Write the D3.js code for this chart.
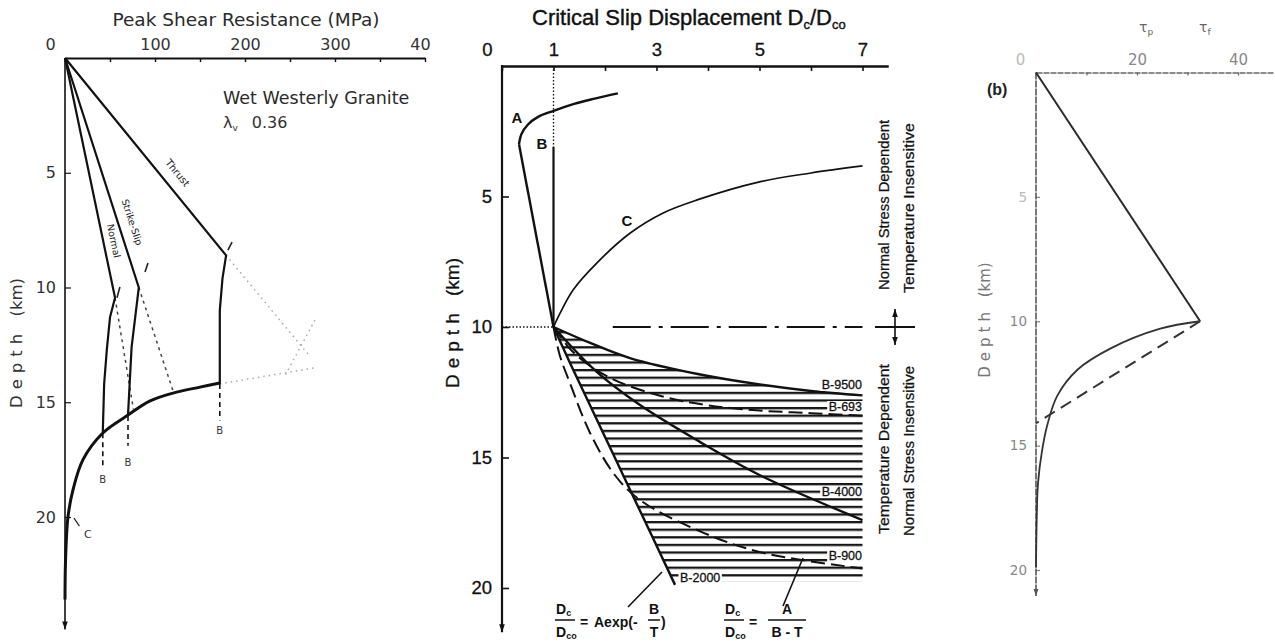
<!DOCTYPE html>
<html>
<head>
<meta charset="utf-8">
<script src="https://cdn.jsdelivr.net/npm/d3@7"></script>
<style>
  body { margin: 0; background: #fff; }
  svg { display: block; }
</style>
</head>
<body>
<svg id="fig" width="1275" height="642"></svg>
<script>
// ---------- Panel 1: peak shear resistance, wet Westerly granite ----------
const shearTicks = [0, 50, 100, 150, 200, 250, 300, 350, 400];
const shearTickLabels = [0, 100, 200, 300, 400];
const depthTicks = [5, 10, 15, 20];
// points are [shear resistance (MPa), depth (km)]
const thrustLine = [[0, 0], [179, 8.6], [175, 9.6], [172, 11], [172, 14.2]];
const strikeSlipLine = [[0, 0], [82, 10], [78, 11.3], [74, 12.6], [70, 15.56]];
const normalLine = [[0, 0], [55.6, 10.45], [50, 11.3], [46.5, 12.7], [43.5, 14.2], [42, 16.3]];
const envelopeC = [[172, 14.16], [150, 14.34], [120, 14.6], [94, 14.95], [70, 15.56], [42, 16.34],
                   [20, 17.5], [9, 18.8], [3.3, 20], [0.6, 21.9], [0, 23.6]];
const brittleB = [[[172, 14.2], [172, 15.8]], [[70, 15.6], [70, 16.9]], [[42, 16.35], [42, 17.9]]];
const brittleLabelDepth = [16.2, 17.6, 18.35];
const frictionExt = [[[55.6, 10.45], [76, 15.3]], [[82, 10], [120, 14.5]]];
const faintExt = [[[179, 8.6], [270, 12.9]], [[172, 14.2], [278, 13.5]], [[245, 13.8], [278, 11.4]]];
const kinkMarks = [[[57.8, 10.45], [61, 9.98]], [[88.9, 9.32], [92.2, 8.93]], [[181, 8.37], [185.6, 8.02]]];

// ---------- Panel 2: critical slip displacement Dc/Dco ----------
const dcTicks = [0, 1, 2, 3, 4, 5, 6, 7];
const dcTickLabels = [0, 1, 3, 5, 7];
// points are [Dc/Dco, depth (km)]
const curveAHook = [[2.25, 1.05], [1.8, 1.25], [1.4, 1.45], [1.0, 1.72], [0.7, 1.95], [0.5, 2.25],
                    [0.38, 2.6], [0.33, 3.0]];
const curveAStem = [[0.33, 3.0], [1.0, 10]];
const curveB = [[1, 3.1], [1, 10]];
const curveBDotted = [[1, 0], [1, 3.1]];
const curveC = [[1, 10], [1.12, 9.5], [1.38, 8.58], [1.84, 7.55], [2.49, 6.4], [3.13, 5.63],
                [3.79, 5.13], [5.0, 4.44], [6.0, 4.1], [7.0, 3.83]];
const b9500 = [[1, 10], [1.7, 10.6], [2.5, 11.2], [3.8, 11.8], [5, 12.2], [6, 12.45], [7, 12.62]];
const b693 = [[1, 10], [1.4, 11.0], [2.1, 11.95], [3.1, 12.65], [4.0, 13.0], [5.0, 13.2], [6.0, 13.3], [7.0, 13.4]];
const b4000 = [[1, 10], [1.84, 11.72], [2.68, 12.99], [3.84, 14.4], [5.0, 15.67], [7, 17.4]];
const b2000 = [[1, 10], [1.35, 11.5], [1.95, 14], [2.55, 16.5], [3.36, 19.88]];
const b900 = [[1, 10], [1.12, 11.07], [1.32, 12.15], [1.71, 14.06], [2.19, 15.67], [2.68, 16.63],
              [3.79, 17.78], [5.0, 18.62], [7.0, 19.25]];
const transitionDepth = 10;
const hatchBottom = 19.75;

// ---------- Panel 3 (b): shear stress profile ----------
const tauTicks = [0, 10, 20, 30, 40];
const tauTickLabels = [0, 20, 40];
// points are [stress (MPa), depth (km)]
const tauPeak = [[0, 0], [32.5, 10]];
const tauDecay = [[32.5, 10], [24.6, 10.3], [14.7, 11.1], [8.2, 11.95], [4.2, 13.0], [2.2, 14.2],
                  [1.2, 15.2], [0.4, 16.5], [0.15, 17.9], [0, 19.9]];
const tauDashed = [[32.5, 10], [0, 14.1]];

const svg = d3.select("#fig");
const defs = svg.append("defs");

function addArrow(id, color, size) {
  defs.append("marker")
    .attr("id", id).attr("viewBox", "0 0 10 10")
    .attr("refX", 10).attr("refY", 5)
    .attr("markerUnits", "userSpaceOnUse")
    .attr("markerWidth", size).attr("markerHeight", size)
    .attr("orient", "auto-start-reverse")
    .append("path").attr("d", "M0,1.5 L10,5 L0,8.5 z").attr("fill", color);
}
addArrow("arrowDark", "#111", 8);
addArrow("arrowGrey", "#555", 7);

function drawLine(g, data, x, y, opts) {
  const gen = d3.line().x(d => x(d[0])).y(d => y(d[1])).curve(opts.curve || d3.curveLinear);
  return g.append("path")
    .attr("d", gen(data))
    .attr("fill", "none")
    .attr("stroke", opts.color || "#111")
    .attr("stroke-width", opts.width || 2)
    .attr("stroke-dasharray", opts.dash || null)
    .attr("stroke-linejoin", "round")
    .attr("stroke-linecap", opts.cap || "butt");
}

// =================== Panel 1 ===================
const leftFont = "'DejaVu Sans', sans-serif";
const xA = d3.scaleLinear().domain([0, 400]).range([65, 425]);
const yA = d3.scaleLinear().domain([0, 20]).range([58, 517]);

defs.append("clipPath").attr("id", "clipLeft")
  .append("rect").attr("x", 0).attr("y", 0).attr("width", 431).attr("height", 642);

const gA = svg.append("g").attr("clip-path", "url(#clipLeft)");

gA.append("text").attr("x", 246).attr("y", 26).attr("text-anchor", "middle")
  .attr("font-family", leftFont).attr("font-size", 18.5).attr("fill", "#2a2a2a")
  .text("Peak Shear Resistance (MPa)");

const axATop = gA.append("g").attr("transform", `translate(0,${yA(0)})`)
  .call(d3.axisTop(xA).tickValues(shearTicks).tickSizeInner(-4).tickSizeOuter(0).tickPadding(8)
    .tickFormat(v => shearTickLabels.includes(v) ? v : ""));
axATop.select(".domain").attr("stroke", "#111").attr("stroke-width", 2.2);
axATop.selectAll(".tick line").attr("stroke", "#111").attr("stroke-width", 1.4);
axATop.selectAll(".tick text").attr("font-family", leftFont).attr("font-size", 16).attr("fill", "#333");
axATop.selectAll(".tick").filter(d => d === 0).select("text").attr("dx", -15);

const axALeft = gA.append("g").attr("transform", `translate(${xA(0)},0)`)
  .call(d3.axisLeft(yA).tickValues(depthTicks).tickSizeInner(-6).tickSizeOuter(0).tickPadding(9));
axALeft.select(".domain").remove();
axALeft.selectAll(".tick line").attr("stroke", "#111").attr("stroke-width", 1.2);
axALeft.selectAll(".tick text").attr("font-family", leftFont).attr("font-size", 16).attr("fill", "#333");
gA.append("line").attr("x1", xA(0)).attr("x2", xA(0)).attr("y1", yA(0)).attr("y2", yA(24.9))
  .attr("stroke", "#111").attr("stroke-width", 1.6).attr("marker-end", "url(#arrowDark)");

const depthLabelA = gA.append("text").attr("transform", `translate(22,343) rotate(-90)`)
  .attr("text-anchor", "middle").attr("font-family", leftFont).attr("font-size", 16.5).attr("fill", "#333");
depthLabelA.append("tspan").attr("letter-spacing", 6).text("Depth ");
depthLabelA.append("tspan").text("(km)");

faintExt.forEach(seg => drawLine(gA, seg, xA, yA, { color: "#aaa", width: 1.5, dash: "1.5,4" }));
frictionExt.forEach(seg => drawLine(gA, seg, xA, yA, { color: "#444", width: 1.5, dash: "3,4" }));
kinkMarks.forEach(seg => drawLine(gA, seg, xA, yA, { color: "#222", width: 1.6 }));

drawLine(gA, thrustLine, xA, yA, { width: 2.2 });
drawLine(gA, strikeSlipLine, xA, yA, { width: 2.2 });
drawLine(gA, normalLine, xA, yA, { width: 2.2 });
drawLine(gA, envelopeC, xA, yA, { width: 3, curve: d3.curveCatmullRom.alpha(0.5) });
brittleB.forEach((seg, i) => {
  drawLine(gA, seg, xA, yA, { width: 1.6, dash: "5,4" });
  gA.append("text").attr("x", xA(seg[0][0])).attr("y", yA(brittleLabelDepth[i]) + 4)
    .attr("text-anchor", "middle").attr("font-family", leftFont).attr("font-size", 10).attr("fill", "#333")
    .text("B");
});
// label C with its short leader
gA.append("line").attr("x1", xA(10)).attr("y1", yA(20.05)).attr("x2", xA(16)).attr("y2", yA(20.4))
  .attr("stroke", "#222").attr("stroke-width", 1.2);
gA.append("text").attr("x", xA(21)).attr("y", yA(20.9)).attr("font-family", leftFont)
  .attr("font-size", 11).attr("fill", "#333").text("C");

function alongLabel(g, text, px, py, angle, size) {
  g.append("text").attr("transform", `translate(${px},${py}) rotate(${angle})`)
    .attr("text-anchor", "middle").attr("font-family", leftFont).attr("font-size", size)
    .attr("fill", "#222").text(text);
}
alongLabel(gA, "Thrust", xA(122), yA(5.1), 50.7, 10);
alongLabel(gA, "Strike-Slip", xA(71), yA(7.2), 72, 9.5);
alongLabel(gA, "Normal", xA(50.5), yA(8.0), 78, 9.5);

gA.append("text").attr("x", 223).attr("y", 104).attr("font-family", leftFont).attr("font-size", 17.5)
  .attr("fill", "#2a2a2a").text("Wet Westerly Granite");
const lam = gA.append("text").attr("x", 223).attr("y", 128).attr("font-family", leftFont)
  .attr("font-size", 16).attr("fill", "#333");
lam.append("tspan").text("λ");
lam.append("tspan").attr("font-size", 9).attr("dy", 3).text("v");
lam.append("tspan").attr("dy", -3).attr("dx", 14).text("0.36");

// =================== Panel 2 ===================
const midFont = "'Liberation Sans', Arial, sans-serif";
const xB = d3.scaleLinear().domain([0, 7]).range([502, 862.5]);
const yB = d3.scaleLinear().domain([0, 20]).range([66, 588]);
const gB = svg.append("g");

const title = gB.append("text").attr("x", 532).attr("y", 25).attr("font-family", midFont)
  .attr("font-size", 22).attr("fill", "#111").attr("stroke", "#111").attr("stroke-width", 0.4);
title.append("tspan").text("Critical Slip Displacement  D");
title.append("tspan").attr("font-size", 13).attr("dy", 4).text("c");
title.append("tspan").attr("dy", -4).text("/D");
title.append("tspan").attr("font-size", 13).attr("dy", 4).text("co");

const axBTop = gB.append("g").attr("transform", `translate(0,${yB(0)})`)
  .call(d3.axisTop(xB.copy().domain([0, 7.5]).range([502, xB(7.5)]))
    .tickValues(dcTicks).tickSizeInner(-5).tickSizeOuter(0).tickPadding(10)
    .tickFormat(v => dcTickLabels.includes(v) ? v : ""));
axBTop.select(".domain").attr("stroke", "#111").attr("stroke-width", 2.4);
axBTop.selectAll(".tick line").attr("stroke", "#111").attr("stroke-width", 1.6);
axBTop.selectAll(".tick text").attr("font-family", midFont).attr("font-size", 18.5).attr("fill", "#111")
  .attr("stroke", "#111").attr("stroke-width", 0.3);
axBTop.selectAll(".tick").filter(d => d === 0).select("text").attr("dx", -15);

const axBLeft = gB.append("g").attr("transform", `translate(${xB(0)},0)`)
  .call(d3.axisLeft(yB).tickValues(depthTicks).tickSizeInner(-7).tickSizeOuter(0).tickPadding(10));
axBLeft.select(".domain").remove();
axBLeft.selectAll(".tick line").attr("stroke", "#111").attr("stroke-width", 1.6);
axBLeft.selectAll(".tick text").attr("font-family", midFont).attr("font-size", 18.5).attr("fill", "#111")
  .attr("stroke", "#111").attr("stroke-width", 0.3);
gB.append("line").attr("x1", xB(0)).attr("x2", xB(0)).attr("y1", yB(0) - 1).attr("y2", yB(21.7))
  .attr("stroke", "#111").attr("stroke-width", 2.2).attr("marker-end", "url(#arrowDark)");

const depthLabelB = gB.append("text").attr("transform", `translate(459,323) rotate(-90)`)
  .attr("text-anchor", "middle").attr("font-family", midFont).attr("font-size", 19).attr("fill", "#111")
  .attr("stroke", "#111").attr("stroke-width", 0.3);
depthLabelB.append("tspan").attr("letter-spacing", 6).text("Depth ");
depthLabelB.append("tspan").text("(km)");

// hatched region between B-2000 and B-9500
defs.append("pattern").attr("id", "hatch").attr("patternUnits", "userSpaceOnUse")
  .attr("x", 0).attr("y", yB(10) + 4).attr("width", 10).attr("height", 7.6)
  .append("rect").attr("x", 0).attr("y", 0).attr("width", 10).attr("height", 2.3).attr("fill", "#151515");
const smooth = d3.line().x(d => xB(d[0])).y(d => yB(d[1])).curve(d3.curveCatmullRom.alpha(0.5));
const hatchPath = smooth(b2000) +
  `L${xB(b2000[b2000.length - 1][0])},${yB(hatchBottom)}` +
  `L${xB(7)},${yB(hatchBottom)}` +
  `L${xB(7)},${yB(b9500[b9500.length - 1][1])}` +
  smooth(b9500.slice().reverse()).replace(/^M/, "L") + "Z";
gB.append("path").attr("d", hatchPath).attr("fill", "url(#hatch)");

// reference lines
drawLine(gB, [[0, transitionDepth], [1, transitionDepth]], xB, yB, { width: 1.3, dash: "1.5,2" });
drawLine(gB, curveBDotted, xB, yB, { width: 1.3, dash: "1.5,2" });
drawLine(gB, [[2.15, transitionDepth], [7, transitionDepth]], xB, yB, { width: 1.8, dash: "38,8,4,8" });

// model curves
drawLine(gB, curveAHook, xB, yB, { width: 2.4, curve: d3.curveCatmullRom.alpha(0.5) });
drawLine(gB, curveAStem, xB, yB, { width: 2.4 });
drawLine(gB, curveB, xB, yB, { width: 2.2 });
drawLine(gB, curveC, xB, yB, { width: 1.7, curve: d3.curveCatmullRom.alpha(0.5) });
drawLine(gB, b9500, xB, yB, { width: 2.4, curve: d3.curveCatmullRom.alpha(0.5) });
drawLine(gB, b4000, xB, yB, { width: 2.4, curve: d3.curveCatmullRom.alpha(0.5) });
drawLine(gB, b2000, xB, yB, { width: 2.4, curve: d3.curveCatmullRom.alpha(0.5) });
drawLine(gB, b693, xB, yB, { width: 2.0, dash: "14,6", curve: d3.curveCatmullRom.alpha(0.5) });
drawLine(gB, b900, xB, yB, { width: 2.0, dash: "14,6", curve: d3.curveCatmullRom.alpha(0.5) });

function boxedLabel(g, text, x, y, anchor) {
  const t = g.append("text").attr("x", x).attr("y", y).attr("text-anchor", anchor)
    .attr("font-family", midFont).attr("font-size", 12.5).attr("fill", "#111")
    .attr("stroke", "#111").attr("stroke-width", 0.3).text(text);
  const bb = t.node().getBBox();
  g.insert("rect", () => t.node()).attr("x", bb.x - 1.5).attr("y", bb.y + 1)
    .attr("width", bb.width + 3).attr("height", bb.height - 2).attr("fill", "#fff");
}
boxedLabel(gB, "B-9500", 862, 389, "end");
boxedLabel(gB, "B-693", 862, 411, "end");
boxedLabel(gB, "B-4000", 862, 496, "end");
boxedLabel(gB, "B-900", 862, 560, "end");
boxedLabel(gB, "B-2000", 680, 582, "start");

function curveLetter(text, x, y) {
  gB.append("text").attr("x", x).attr("y", y).attr("text-anchor", "middle").attr("font-family", midFont)
    .attr("font-size", 15).attr("font-weight", "bold").attr("fill", "#111").text(text);
}
curveLetter("A", 517, 123);
curveLetter("B", 542, 149);
curveLetter("C", 627, 226);

// regime annotations
function vText(text, x, yc) {
  gB.append("text").attr("transform", `translate(${x},${yc}) rotate(-90)`).attr("text-anchor", "middle")
    .attr("font-family", midFont).attr("font-size", 14).attr("fill", "#111")
    .attr("stroke", "#111").attr("stroke-width", 0.25)
    .attr("textLength", 170).attr("lengthAdjust", "spacingAndGlyphs").text(text);
}
vText("Normal Stress Dependent", 889, 205);
vText("Temperature Insensitive", 914, 208);
vText("Temperature Dependent", 889, 449);
vText("Normal Stress Insensitive", 914, 451);
gB.append("line").attr("x1", 875).attr("x2", 915).attr("y1", yB(transitionDepth)).attr("y2", yB(transitionDepth))
  .attr("stroke", "#111").attr("stroke-width", 1.8);
gB.append("line").attr("x1", 895).attr("x2", 895).attr("y1", 309).attr("y2", 345)
  .attr("stroke", "#111").attr("stroke-width", 1.6)
  .attr("marker-start", "url(#arrowDark)").attr("marker-end", "url(#arrowDark)");

// constitutive relations
function dcRatio(x, yNum) {
  const a = gB.append("text").attr("x", x).attr("y", yNum).attr("font-family", midFont)
    .attr("font-size", 14).attr("font-weight", "bold").attr("fill", "#111");
  a.append("tspan").text("D");
  a.append("tspan").attr("font-size", 9).attr("dy", 2).text("c");
  gB.append("line").attr("x1", x - 1).attr("x2", x + 19).attr("y1", yNum + 6).attr("y2", yNum + 6)
    .attr("stroke", "#111").attr("stroke-width", 1.5);
  const b = gB.append("text").attr("x", x).attr("y", yNum + 23).attr("font-family", midFont)
    .attr("font-size", 14).attr("font-weight", "bold").attr("fill", "#111");
  b.append("tspan").text("D");
  b.append("tspan").attr("font-size", 9).attr("dy", 2).text("co");
}
function boldText(text, x, y, anchor) {
  gB.append("text").attr("x", x).attr("y", y).attr("text-anchor", anchor || "start").attr("font-family", midFont)
    .attr("font-size", 14).attr("font-weight", "bold").attr("fill", "#111").text(text);
}
dcRatio(556, 614);
boldText("=", 580, 627);
boldText("Aexp(-", 594, 627);
boldText("B", 654, 614, "middle");
gB.append("line").attr("x1", 648).attr("x2", 660).attr("y1", 620).attr("y2", 620).attr("stroke", "#111").attr("stroke-width", 1.5);
boldText("T", 654, 637, "middle");
boldText(")", 661, 627);
dcRatio(725, 614);
boldText("=", 749, 627);
boldText("A", 787, 614, "middle");
gB.append("line").attr("x1", 768).attr("x2", 806).attr("y1", 620).attr("y2", 620).attr("stroke", "#111").attr("stroke-width", 1.5);
boldText("B - T", 787, 637, "middle");
gB.append("line").attr("x1", 628).attr("y1", 607).attr("x2", 662).attr("y2", 572).attr("stroke", "#111").attr("stroke-width", 1.6);
gB.append("line").attr("x1", 783).attr("y1", 606).attr("x2", 803).attr("y2", 558).attr("stroke", "#111").attr("stroke-width", 1.6);

// =================== Panel 3 ===================
const xC = d3.scaleLinear().domain([0, 40]).range([1036, 1238]);
const yC = d3.scaleLinear().domain([0, 20]).range([72.5, 570]);
const gC = svg.append("g");

const axCTop = gC.append("g").attr("transform", `translate(0,${yC(0)})`)
  .call(d3.axisTop(xC.copy().domain([0, 47]).range([1036, xC(47)])).tickValues(tauTicks)
    .tickSizeInner(-3).tickSizeOuter(0).tickPadding(8)
    .tickFormat(v => tauTickLabels.includes(v) ? v : ""));
axCTop.select(".domain").attr("stroke", "#666").attr("stroke-width", 1.6).attr("stroke-dasharray", "6,1");
axCTop.selectAll(".tick line").attr("stroke", "#666").attr("stroke-width", 1.2);
axCTop.selectAll(".tick text").attr("font-family", leftFont).attr("font-size", 15).attr("fill", "#888");
axCTop.selectAll(".tick").filter(d => d === 0).select("text").attr("dx", -16).attr("fill", "#bbb");

const axCLeft = gC.append("g").attr("transform", `translate(${xC(0)},0)`)
  .call(d3.axisLeft(yC).tickValues(depthTicks).tickSizeInner(-4).tickSizeOuter(0).tickPadding(9));
axCLeft.select(".domain").remove();
axCLeft.selectAll(".tick line").attr("stroke", "#777").attr("stroke-width", 1.1);
axCLeft.selectAll(".tick text").attr("font-family", leftFont).attr("font-size", 13.5).attr("fill", "#888");
axCLeft.selectAll(".tick").filter(d => d === 5).select("text").attr("fill", "#bbb");
gC.append("line").attr("x1", xC(0)).attr("x2", xC(0)).attr("y1", yC(0)).attr("y2", yC(21.05))
  .attr("stroke", "#555").attr("stroke-width", 1.6).attr("stroke-dasharray", "7,1")
  .attr("marker-end", "url(#arrowGrey)");

const depthLabelC = gC.append("text").attr("transform", `translate(990,320) rotate(-90)`)
  .attr("text-anchor", "middle").attr("font-family", leftFont).attr("font-size", 15).attr("fill", "#777");
depthLabelC.append("tspan").attr("letter-spacing", 5).text("Depth ");
depthLabelC.append("tspan").text("(km)");

gC.append("text").attr("x", 987).attr("y", 95).attr("font-family", midFont).attr("font-size", 16)
  .attr("font-weight", "bold").attr("fill", "#222").text("(b)");
function tauLabel(sub, x) {
  const t = gC.append("text").attr("x", x).attr("y", 32).attr("font-family", leftFont)
    .attr("font-size", 14).attr("fill", "#666");
  t.append("tspan").text("τ");
  t.append("tspan").attr("font-size", 9).attr("dy", 3).text(sub);
}
tauLabel("p", 1139);
tauLabel("f", 1199);

drawLine(gC, tauPeak, xC, yC, { color: "#2a2a2a", width: 2 });
drawLine(gC, tauDecay, xC, yC, { color: "#333", width: 1.8, curve: d3.curveCatmullRom.alpha(0.5) });
drawLine(gC, tauDashed, xC, yC, { color: "#333", width: 2, dash: "12,7" });
</script>
</body>
</html>
